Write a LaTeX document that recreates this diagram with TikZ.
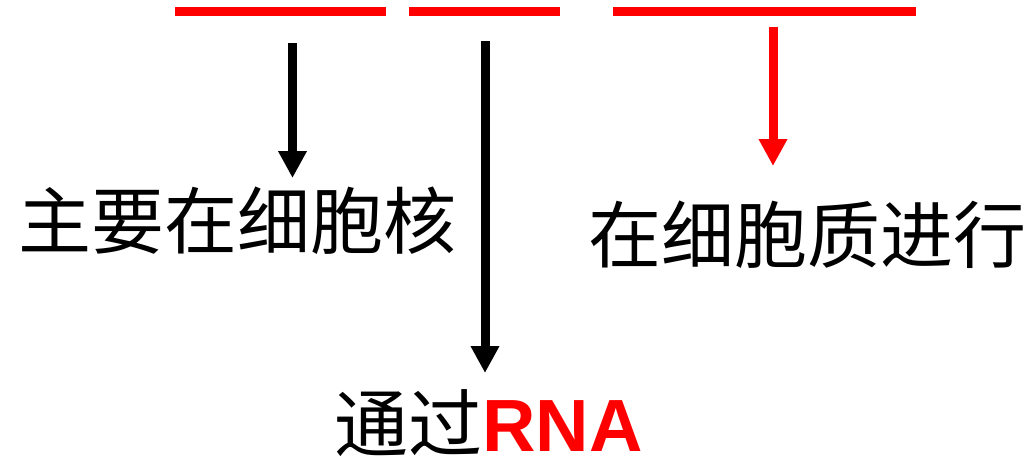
\documentclass[tikz,border=0pt]{standalone}
\usepackage{fontspec}
\setmainfont{Liberation Sans}
\newfontfamily\cjk{Noto Sans CJK SC}
\usetikzlibrary{arrows.meta}
\definecolor{pred}{RGB}{255,0,0}
\begin{document}
\begin{tikzpicture}[x=1pt,y=1pt,
  bar/.style={pred,line width=9pt},
  down/.style={line width=9pt,-{Triangle[width=27pt,length=27pt]}},
  label/.style={inner sep=0pt,font=\cjk\fontsize{73}{73}\selectfont}]
\useasboundingbox (0,0) rectangle (1034,-461);
% bracket bars over the three parts
\draw[bar] (175,-11) -- (386,-11);
\draw[bar] (409,-11) -- (560,-11);
\draw[bar] (613,-11) -- (916,-11);
% arrow start points under the bars
\coordinate (s1) at (292.5,-43);
\coordinate (s2) at (485,-41);
\coordinate (s3) at (773,-27);
\coordinate (e1) at (292.5,-178);
\coordinate (e2) at (485,-373);
\coordinate (e3) at (773,-166);
% labels
\node[label] (nuc) at (238,-221) {主要在细胞核};
\node[label] (cyto) at (807.5,-235) {在细胞质进行};
\node[label,font=\cjk\fontsize{74}{74}\selectfont,anchor=base,text depth=0pt]
  (rna) at (488.5,-451) {通过{\fontspec{Liberation Sans}\bfseries\color{pred}RNA}};
% arrows
\draw[down] (s1) -- (e1);
\draw[down] (s2) -- (e2);
\draw[down,pred] (s3) -- (e3);
\end{tikzpicture}
\end{document}
